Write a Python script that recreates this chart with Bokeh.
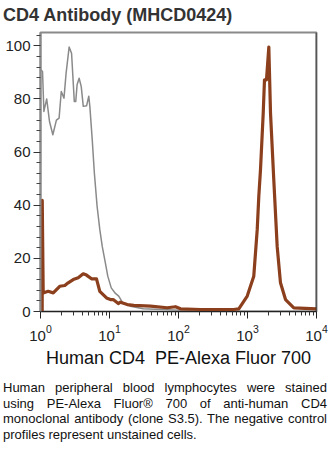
from bokeh.plotting import figure
from bokeh.models import Range1d, FixedTicker, Span, Div
from bokeh.layouts import column
from bokeh.embed import file_html
from bokeh.resources import INLINE

title_text = "CD4 Antibody (MHCD0424)"
x_label = "Human CD4\u00a0 PE-Alexa Fluor 700"
caption = ("Human peripheral blood lymphocytes were stained using PE-Alexa Fluor\u00ae 700 "
           "of anti-human CD4 monoclonal antibody (clone S3.5). The negative control "
           "profiles represent unstained cells.")

# Unstained control (gray)
ctrl_x = [1.01, 1.07, 1.12, 1.23, 1.35, 1.51, 1.70, 1.86, 2.00, 2.19, 2.35, 2.60,
          2.82, 3.09, 3.24, 3.39, 3.63, 3.89, 4.17, 4.65, 5.01, 5.19, 5.62, 6.03,
          6.61, 7.24, 7.85, 8.71, 9.44, 10.6, 12.2, 13.6, 15.5, 20.0, 30.9, 69.2,
          158, 1000, 10000]
ctrl_y = [91, 90.3, 75.3, 80, 71.5, 66.5, 72, 72.8, 82.8, 80.3, 89.7, 99.5,
          97.2, 79, 79, 85.3, 87.8, 84.7, 77.2, 77.4, 81, 77.2, 64.7, 52.2,
          39.6, 30.8, 24.5, 18.3, 13.3, 8.9, 6.8, 5.8, 3.3, 2.0, 1.0, 0.7,
          0.3, 0.1, 0.1]

# CD4 stained (brown)
cd4_x = [1.058, 1.06, 1.094, 1.29, 1.53, 1.90, 2.25, 2.52, 2.98, 3.52, 4.16, 4.64,
         5.48, 6.48, 7.23, 9.05, 10.3, 11.3, 13.4, 14.4, 18.1, 22.5, 39.3, 68.6,
         90.5, 107, 208, 627, 748, 991, 1233, 1383, 1459, 1543, 1690, 1763,
         1884, 2037, 2155, 2404, 2692, 3006, 3556, 4688, 10000]
cd4_y = [0, 41.8, 7, 7.6, 7, 9.5, 9.8, 10.8, 12, 12.7, 14.2, 13.7,
         12.3, 12.3, 7.6, 5.1, 4.5, 4.5, 3, 3.5, 2.6, 2.3, 2, 1.4,
         1.8, 1, 0.75, 0.75, 1, 5.8, 13.3, 30.8, 43.4, 53.4, 74.7, 87.2,
         87.2, 99.5, 74.7, 49.6, 24.5, 10.8, 4.5, 1.4, 1]

x_major = [1, 10, 100, 1000, 10000]
x_minor = [2, 3, 4, 5, 6, 7, 8, 9,
           20, 30, 40, 50, 60, 70, 80, 90,
           200, 300, 400, 500, 600, 700, 800, 900,
           2000, 3000, 4000, 5000, 6000, 7000, 8000, 9000]
y_major = [0, 20, 40, 60, 80, 100]
y_minor = [4, 8, 12, 16, 24, 28, 32, 36, 44, 48, 52, 56,
           64, 68, 72, 76, 84, 88, 92, 96, 104]

FONT = "Liberation Sans"

p = figure(frame_width=276, frame_height=279, x_axis_type="log",
           x_range=Range1d(1, 10000), y_range=Range1d(0, 105),
           output_backend="svg", toolbar_location=None,
           min_border_left=40, min_border_right=14, min_border_top=1, min_border_bottom=5)

p.line(ctrl_x, ctrl_y, line_color="#8a8a8a", line_width=1.5, line_join="round")
p.line(cd4_x, cd4_y, line_color="#8c3f1c", line_width=3.2, line_join="round")

p.grid.visible = False
p.background_fill_color = "white"
p.border_fill_color = "white"
p.outline_line_color = "#8a8a8a"
p.outline_line_width = 2

right_edge = Span(location=10000, dimension="height", line_color="#222222", line_width=1.5)
p.add_layout(right_edge)

ya = p.yaxis[0]
ya.ticker = FixedTicker(ticks=y_major, minor_ticks=y_minor)
ya.axis_line_color = "#8a8a8a"
ya.axis_line_width = 2
ya.major_tick_line_color = "#333333"
ya.minor_tick_line_color = "#444444"
ya.major_tick_line_width = 1
ya.minor_tick_line_width = 1
ya.major_tick_out = 7
ya.major_tick_in = 0
ya.minor_tick_out = 4
ya.minor_tick_in = 0
ya.major_label_text_font = FONT
ya.major_label_text_font_size = "15px"
ya.major_label_text_color = "#222222"
ya.major_label_standoff = 3

xa = p.xaxis[0]
xa.ticker = FixedTicker(ticks=x_major, minor_ticks=x_minor)
xa.axis_line_color = "#222222"
xa.axis_line_width = 1
xa.major_tick_line_color = "#222222"
xa.minor_tick_line_color = "#333333"
xa.minor_tick_line_width = 1
xa.major_tick_out = 7
xa.major_tick_in = 0
xa.minor_tick_out = 4
xa.minor_tick_in = 0
xa.major_label_text_font = FONT
xa.major_label_text_font_size = "15px"
xa.major_label_text_color = "#222222"
xa.major_label_standoff = 6
xa.axis_label = x_label
xa.axis_label_text_font = FONT
xa.axis_label_text_font_size = "18px"
xa.axis_label_text_font_style = "normal"
xa.axis_label_text_color = "#111111"
xa.axis_label_standoff = 4

title = Div(text=title_text, width=327, height=31, margin=(0, 0, 0, 3),
            styles={"font-family": FONT, "font-size": "18px", "font-weight": "bold",
                    "color": "#333333", "padding-top": "3px"})

cap = Div(text=caption, width=324, height=70, margin=(10, 3, 0, 3),
          styles={"font-family": FONT, "font-size": "13px", "line-height": "15.5px",
                  "text-align": "justify", "color": "#111111"})

layout = column(title, p, cap, spacing=0)

open("out.html", "w").write(file_html(layout, INLINE))
